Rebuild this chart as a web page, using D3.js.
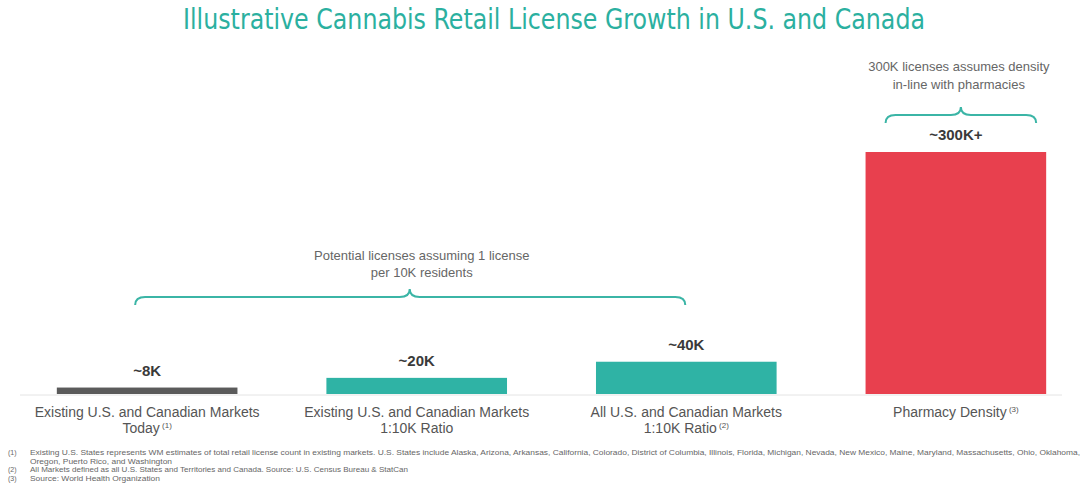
<!DOCTYPE html>
<html>
<head>
<meta charset="utf-8">
<script src="https://cdn.jsdelivr.net/npm/d3@7"></script>
<style>
  body { margin: 0; background: #fff; }
  svg { display: block; font-family: "Liberation Sans", Arial, sans-serif; }
</style>
</head>
<body>
<svg id="chart" width="1087" height="492"></svg>
<script>
// chart values
const categories = ['today', 'ratio', 'all', 'pharmacy'];
const values = [8, 20, 40, 300];            // thousands of licenses
const valueLabels = ['~8K', '~20K', '~40K', '~300K+'];
const barColors = ['#5b5b5b', '#2fb3a5', '#2fb3a5', '#e8404e'];
const labelLine1 = ['Existing U.S. and Canadian Markets', 'Existing U.S. and Canadian Markets', 'All U.S. and Canadian Markets', 'Pharmacy Density'];
const labelLine2 = ['Today', '1:10K Ratio', '1:10K Ratio', ''];
const labelNote = ['(1)', '', '(2)', '(3)'];
const footNums = ['(1)', '', '(2)', '(3)'];
const footTexts = [
  'Existing U.S. States represents WM estimates of total retail license count in existing markets.  U.S. States include Alaska, Arizona, Arkansas, California, Colorado, District of Columbia, Illinois, Florida, Michigan, Nevada, New Mexico, Maine, Maryland, Massachusetts, Ohio, Oklahoma,',
  'Oregon, Puerto Rico, and Washington',
  'All Markets defined as all U.S. States and Territories and Canada.  Source: U.S. Census Bureau & StatCan',
  'Source: World Health Organization'
];
const footWidths = [1050, 142, 378, 130];

const svg = d3.select('#chart');
const baseY = 394;

let xScale = d3.scaleBand()
  .domain(categories)
  .range([11, 1092])
  .paddingInner(0.33)
  .paddingOuter(0.17);

let yScale = d3.scaleLinear()
  .domain([0, 300])
  .range([baseY, 152]);

// title
svg.append('text')
  .attr('x', 554)
  .attr('y', 29)
  .attr('text-anchor', 'middle')
  .attr('textLength', 742)
  .attr('lengthAdjust', 'spacingAndGlyphs')
  .style('font-family', '"DejaVu Sans Condensed", "Liberation Sans Narrow", sans-serif')
  .style('font-size', '28px')
  .style('fill', '#2bb0a0')
  .text('Illustrative Cannabis Retail License Growth in U.S. and Canada');

// baseline
svg.append('line')
  .attr('x1', 20).attr('x2', 1062)
  .attr('y1', baseY + 1).attr('y2', baseY + 1)
  .style('stroke', '#e4e4e4')
  .style('stroke-width', 1);

// bars
svg.selectAll('rect.bar')
  .data(values)
  .enter().append('rect')
  .attr('class', 'bar')
  .attr('x', (d, i) => xScale(categories[i]))
  .attr('width', xScale.bandwidth())
  .attr('y', d => yScale(d))
  .attr('height', d => baseY - yScale(d))
  .style('fill', (d, i) => barColors[i]);

// value labels
svg.selectAll('text.val')
  .data(values)
  .enter().append('text')
  .attr('class', 'val')
  .attr('x', (d, i) => xScale(categories[i]) + xScale.bandwidth() / 2)
  .attr('y', d => yScale(d) - 12)
  .attr('text-anchor', 'middle')
  .style('font-size', '15px')
  .style('font-weight', 'bold')
  .style('fill', '#3a3a3a')
  .text((d, i) => valueLabels[i]);

// category labels
categories.forEach((c, i) => {
  let cx = xScale(c) + xScale.bandwidth() / 2;
  let t = svg.append('text')
    .attr('x', cx)
    .attr('text-anchor', 'middle')
    .style('font-size', '14px')
    .style('fill', '#555');
  t.append('tspan').attr('x', cx).attr('y', 417).text(labelLine1[i]);
  if (labelLine2[i] != '') {
    t.append('tspan').attr('x', cx).attr('y', 433).text(labelLine2[i]);
  }
  if (labelNote[i] != '') {
    t.append('tspan')
      .attr('dy', -5)
      .style('font-size', '8px')
      .text(' ' + labelNote[i]);
  }
});

// curly brace helper, opening downward
function brace(x0, x1, y, tipX) {
  let h = 8;
  let r = 10;
  return `M${x0},${y + h} Q${x0},${y} ${x0 + r},${y} L${tipX - r},${y} Q${tipX},${y} ${tipX},${y - h}` +
    ` Q${tipX},${y} ${tipX + r},${y} L${x1 - r},${y} Q${x1},${y} ${x1},${y + h}`;
}

// brace over first three markets
let b1x0 = xScale('today') + xScale.bandwidth() / 2 - 12;
let b1x1 = xScale('all') + xScale.bandwidth() / 2 - 1;
let b1tip = xScale('ratio') + xScale.bandwidth() / 2 - 7;
svg.append('path')
  .attr('d', brace(b1x0, b1x1, 297, b1tip))
  .style('fill', 'none')
  .style('stroke', '#3bb5a6')
  .style('stroke-width', 2);
let n1 = svg.append('text')
  .attr('text-anchor', 'middle')
  .style('font-size', '13px')
  .style('fill', '#666');
n1.append('tspan').attr('x', b1tip + 12).attr('y', 260).text('Potential licenses assuming 1 license');
n1.append('tspan').attr('x', b1tip + 12).attr('y', 277).text('per 10K residents');

// brace over pharmacy bar
let b2x0 = xScale('pharmacy') + 20;
let b2x1 = xScale('pharmacy') + xScale.bandwidth() - 10;
let b2tip = (b2x0 + b2x1) / 2;
svg.append('path')
  .attr('d', brace(b2x0, b2x1, 115, b2tip))
  .style('fill', 'none')
  .style('stroke', '#3bb5a6')
  .style('stroke-width', 2);
let n2 = svg.append('text')
  .attr('text-anchor', 'middle')
  .style('font-size', '13px')
  .style('fill', '#666');
n2.append('tspan').attr('x', b2tip - 2).attr('y', 71).text('300K licenses assumes density');
n2.append('tspan').attr('x', b2tip - 2).attr('y', 89).text('in-line with pharmacies');

// footnotes
footTexts.forEach((txt, i) => {
  let y = 455 + i * 8.5;
  svg.append('text')
    .attr('x', 8).attr('y', y)
    .style('font-size', '7px')
    .style('fill', '#666')
    .text(footNums[i]);
  svg.append('text')
    .attr('x', 30).attr('y', y)
    .attr('textLength', footWidths[i])
    .attr('lengthAdjust', 'spacingAndGlyphs')
    .style('font-size', '7px')
    .style('fill', '#666')
    .text(txt);
});
</script>
</body>
</html>
